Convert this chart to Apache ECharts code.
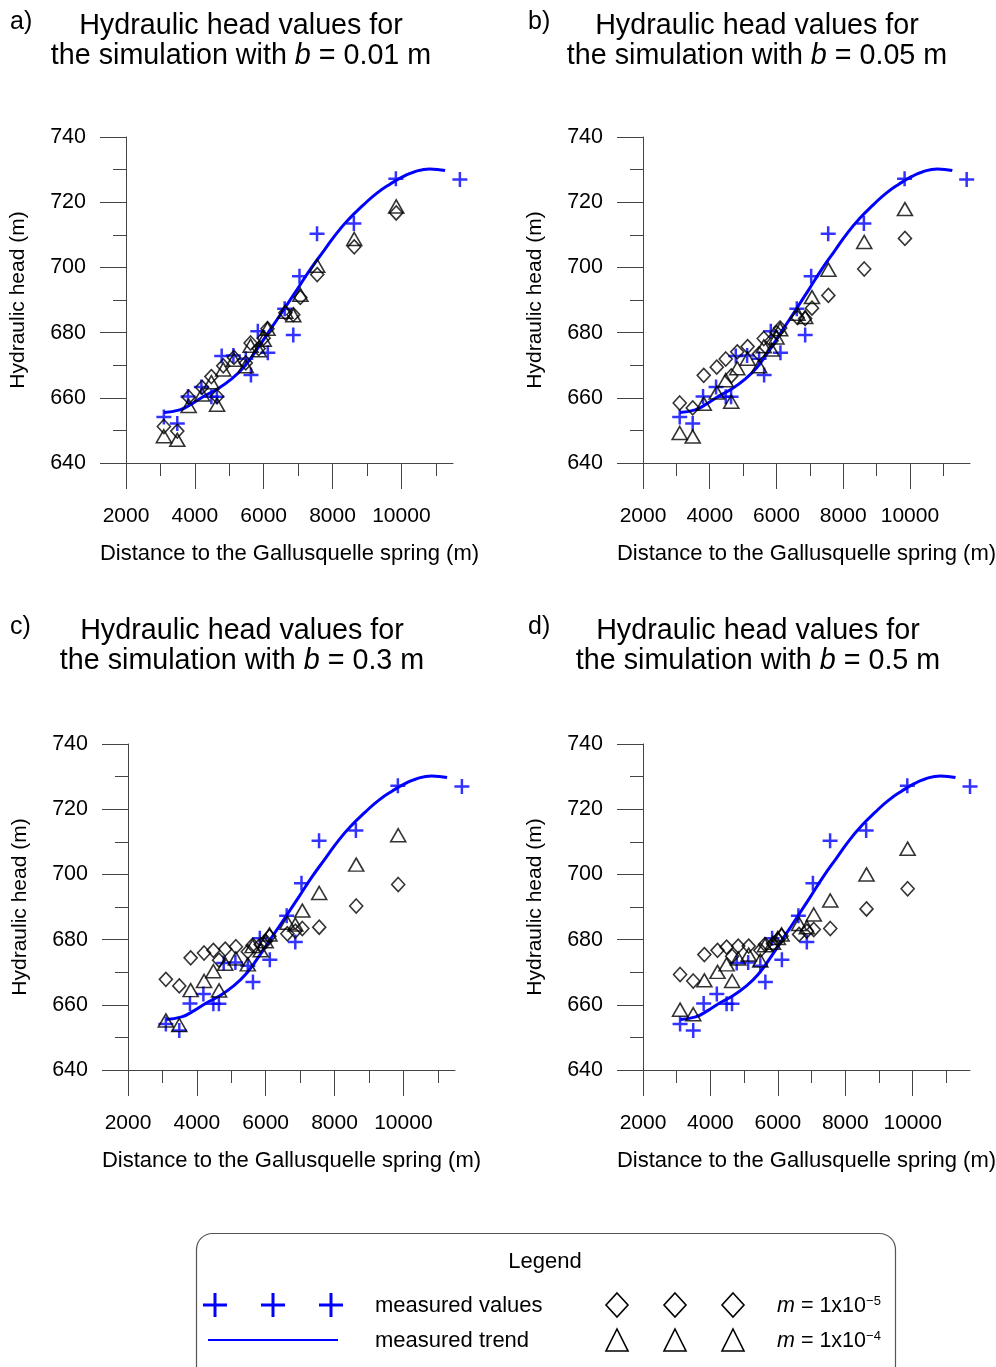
<!DOCTYPE html>
<html>
<head>
<meta charset="utf-8">
<script src="https://cdn.jsdelivr.net/npm/echarts@6/dist/echarts.min.js"></script>
<style>
  html, body { margin: 0; padding: 0; background: #fff; }
  #chart { width: 996px; height: 1367px; }
</style>
</head>
<body>
<div id="chart"></div>
<script>
  // distances (m) of the wells used for the simulated values
  const simX = [3100, 3490, 3820, 4210, 4480, 4645, 4825, 5135, 5480, 5620, 5855, 6000, 6110, 6630, 6860, 7065, 7555, 8630, 9850]

  // measured hydraulic heads
  const measX = [3100, 3490, 3800, 4190, 4480, 4640, 4780, 5120, 5480, 5630, 5830, 6120, 6610, 6860, 7040, 7550, 8620, 9840, 11700]
  const measY = [654.1, 652.1, 660.4, 663.3, 660.3, 660.3, 672.8, 673, 672, 667, 680.4, 673.8, 687.3, 679.3, 697.3, 710.3, 713.5, 727.2, 727]

  // measured trend
  const trendX = [3110, 3560, 3870, 4250, 4640, 5030, 5420, 5800, 6190, 6580, 6970, 7350, 7740, 8130, 8510, 8900, 9290, 9680, 10060, 10350, 10820, 11270]
  const trendY = [655.5, 656.3, 657.9, 660.4, 662.6, 665.5, 669.4, 674.8, 680.9, 687, 693.2, 699.3, 705, 710.6, 715.2, 719.2, 722.8, 725.6, 727.9, 729.2, 730.2, 729.7]

  // simulated heads, m = 1x10-5 (diamonds)
  const diamondA = [651.2, 649.8, 660.2, 663.2, 666.5, 660.4, 669.8, 672.4, 670.7, 676.8, 675.1, 678.3, 681.2, 686.1, 685.5, 690.8, 697.8, 706.3, 716.7]
  const diamondB = [658.4, 656.9, 666.9, 669.4, 671.9, 666.7, 674.1, 675.7, 673.5, 678.2, 677.5, 680, 681.4, 684.6, 684.3, 687.5, 691.4, 699.5, 708.9]
  const diamondC = [667.8, 665.8, 674.4, 675.9, 676.7, 673.7, 677.1, 677.8, 676.3, 678.3, 678.5, 679.5, 681, 681.8, 682.6, 683.4, 683.8, 690.3, 696.9]
  const diamondD = [669.3, 667.3, 675.4, 676.7, 677.7, 674.9, 678, 678, 676.7, 678.5, 678.7, 680, 681.1, 681.6, 682.6, 683.1, 683.4, 689.4, 695.6]

  // simulated heads, m = 1x10-4 (triangles)
  const triA = [648.2, 647.1, 657.5, 661, 664.8, 657.9, 668.7, 671.7, 669.7, 676, 674.6, 677.8, 681.2, 686.4, 685.3, 691.6, 700.5, 708.7, 718.7]
  const triB = [649.2, 648.1, 658.2, 661.6, 665.4, 658.8, 669.1, 672, 669.7, 675.8, 674.8, 678.5, 681, 685.8, 684.8, 690.9, 699.3, 707.8, 717.9]
  const triC = [655.2, 653.8, 664.5, 667.3, 670.3, 664.4, 672.6, 674.2, 672.4, 678, 676.7, 679.5, 681.6, 685.2, 684.6, 688.9, 694.3, 703, 712]
  const triD = [658.5, 657.1, 667.5, 670.1, 672.4, 667.3, 674.2, 675.4, 673.6, 678.3, 679, 680.5, 681.6, 684.8, 683.8, 687.7, 692, 700, 707.9]

  const panelLabels = ['a)', 'b)', 'c)', 'd)']
  const bValues = ['0.01', '0.05', '0.3', '0.5']
  const xMax = [11500, 11800, 11500, 11700]
  const xLabelTicks = [2000, 4000, 6000, 8000, 10000]

  const diamonds = [diamondA, diamondB, diamondC, diamondD]
  const triangles = [triA, triB, triC, triD]

  const FONT = '"Liberation Sans", Arial, sans-serif'
  const BLUE = '#0000ff'
  const AX = '#444'

  // panel boxes (px)
  const boxes = [
    { left: 126, top: 137, cx: 241, label: 10, ty: 22 },
    { left: 643, top: 137, cx: 757, label: 528, ty: 22 },
    { left: 128, top: 744, cx: 242, label: 10, ty: 627 },
    { left: 643, top: 744, cx: 758, label: 528, ty: 627 }
  ]
  const W = 327, H = 326

  const grids = [], xAxes = [], yAxes = [], series = [], graphics = []

  boxes.forEach((b, i) => {
    grids.push({ left: b.left, top: b.top, width: W, height: H, outerBoundsMode: 'none' })

    xAxes.push({
      gridIndex: i,
      type: 'value',
      min: 2000,
      max: xMax[i],
      interval: 2000,
      axisLine: { show: true, onZero: false, lineStyle: { color: AX, width: 1 } },
      axisTick: { show: true, length: 26, customValues: xLabelTicks, lineStyle: { color: AX, width: 1 } },
      minorTick: { show: true, splitNumber: 2, length: 13, lineStyle: { color: AX, width: 1 } },
      splitLine: { show: false },
      axisLabel: {
        customValues: xLabelTicks,
        formatter: v => String(v),
        margin: 43,
        fontSize: 21,
        color: '#000',
        fontFamily: FONT
      },
      name: 'Distance to the Gallusquelle spring (m)',
      nameLocation: 'middle',
      nameGap: 80,
      nameTextStyle: { fontSize: 22, color: '#000', fontFamily: FONT }
    })

    yAxes.push({
      gridIndex: i,
      type: 'value',
      min: 640,
      max: 740,
      interval: 20,
      axisLine: { show: true, onZero: false, lineStyle: { color: AX, width: 1 } },
      axisTick: { show: true, length: 26, lineStyle: { color: AX, width: 1 } },
      minorTick: { show: true, splitNumber: 2, length: 13, lineStyle: { color: AX, width: 1 } },
      splitLine: { show: false },
      axisLabel: { margin: 40, fontSize: 21.5, color: '#000', fontFamily: FONT },
      name: 'Hydraulic head (m)',
      nameLocation: 'middle',
      nameRotate: 90,
      nameGap: 97,
      nameTextStyle: { fontSize: 21, color: '#000', fontFamily: FONT }
    })

    series.push({
      type: 'line',
      xAxisIndex: i, yAxisIndex: i,
      smooth: true,
      showSymbol: false,
      data: trendX.map((x, k) => [x, trendY[k]]),
      lineStyle: { color: BLUE, width: 3 },
      clip: false,
      z: 2
    })
    series.push({
      type: 'scatter',
      xAxisIndex: i, yAxisIndex: i,
      symbol: 'path://M5,0H7V5H12V7H7V12H5V7H0V5H5Z',
      symbolSize: 15,
      data: measX.map((x, k) => [x, measY[k]]),
      itemStyle: { color: BLUE },
      clip: false,
      z: 3
    })
    series.push({
      type: 'scatter',
      xAxisIndex: i, yAxisIndex: i,
      symbol: 'diamond',
      symbolSize: [13, 14],
      data: simX.map((x, k) => [x, diamonds[i][k]]),
      itemStyle: { color: 'rgba(0,0,0,0)', borderColor: '#000', borderWidth: 1.6 },
      clip: false,
      z: 4
    })
    series.push({
      type: 'scatter',
      xAxisIndex: i, yAxisIndex: i,
      symbol: 'triangle',
      symbolSize: [15, 13],
      data: simX.map((x, k) => [x, triangles[i][k]]),
      itemStyle: { color: 'rgba(0,0,0,0)', borderColor: '#000', borderWidth: 1.6 },
      clip: false,
      z: 4
    })

    // panel label and title
    graphics.push({
      type: 'text', left: b.label, top: b.ty - 12,
      style: { text: panelLabels[i], fontSize: 25, fontFamily: FONT, fill: '#000' }
    })
    graphics.push({
      type: 'text', x: b.cx, y: b.ty + 4,
      style: { text: 'Hydraulic head values for', fontSize: 28.7, fontFamily: FONT, fill: '#000', align: 'center', verticalAlign: 'middle' }
    })
    graphics.push({
      type: 'text', x: b.cx, y: b.ty + 34,
      style: {
        text: '{n|the simulation with }{i|b}{n| = ' + bValues[i] + ' m}',
        align: 'center', verticalAlign: 'middle',
        rich: {
          n: { fontSize: 28.7, fontFamily: FONT, fill: '#000' },
          i: { fontSize: 28.7, fontFamily: FONT, fontStyle: 'italic', fill: '#000' }
        }
      }
    })
  })

  // legend box
  const lgTop = 1233
  graphics.push({
    type: 'rect',
    shape: { x: 196.5, y: lgTop + 0.5, width: 699, height: 160, r: 16 },
    style: { fill: 'none', stroke: '#555', lineWidth: 1.2 }
  })
  graphics.push({
    type: 'text', x: 545, y: 1262,
    style: { text: 'Legend', fontSize: 22, fontFamily: FONT, fill: '#000', align: 'center', verticalAlign: 'middle' }
  })
  const row1 = 1305, row2 = 1340
  ;[215, 273, 331].forEach(x => {
    graphics.push({ type: 'line', shape: { x1: x - 12, y1: row1, x2: x + 12, y2: row1 }, style: { stroke: BLUE, lineWidth: 3 } })
    graphics.push({ type: 'line', shape: { x1: x, y1: row1 - 12, x2: x, y2: row1 + 12 }, style: { stroke: BLUE, lineWidth: 3 } })
  })
  graphics.push({ type: 'line', shape: { x1: 208, y1: row2, x2: 338, y2: row2 }, style: { stroke: BLUE, lineWidth: 2 } })
  ;[617, 675, 733].forEach(x => {
    graphics.push({
      type: 'polygon',
      shape: { points: [[x, row1 - 12], [x + 11, row1], [x, row1 + 12], [x - 11, row1]] },
      style: { fill: 'none', stroke: '#000', lineWidth: 1.6 }
    })
    graphics.push({
      type: 'polygon',
      shape: { points: [[x, row2 - 11], [x + 11, row2 + 11], [x - 11, row2 + 11]] },
      style: { fill: 'none', stroke: '#000', lineWidth: 1.6 }
    })
  })
  graphics.push({
    type: 'text', x: 375, y: row1 + 1,
    style: { text: 'measured values', fontSize: 22, fontFamily: FONT, fill: '#000', verticalAlign: 'middle' }
  })
  graphics.push({
    type: 'text', x: 375, y: row2 + 1,
    style: { text: 'measured trend', fontSize: 22, fontFamily: FONT, fill: '#000', verticalAlign: 'middle' }
  })
  ;[['5', row1], ['4', row2]].forEach(([e, y]) => {
    graphics.push({
      type: 'text', x: 777, y: y + 1,
      style: {
        text: '{i|m}{n| = 1x10}{s|\u2212' + e + '}',
        verticalAlign: 'middle',
        rich: {
          i: { fontSize: 21.5, fontFamily: FONT, fontStyle: 'italic', fill: '#000' },
          n: { fontSize: 21.5, fontFamily: FONT, fill: '#000' },
          s: { fontSize: 13, fontFamily: FONT, fill: '#000', verticalAlign: 'top', padding: [0, 0, 8, 0] }
        }
      }
    })
  })

  const chart = echarts.init(document.getElementById('chart'), null, { renderer: 'canvas' })
  chart.setOption({
    backgroundColor: '#fff',
    animation: false,
    grid: grids,
    xAxis: xAxes,
    yAxis: yAxes,
    series: series,
    graphic: graphics
  })
</script>
</body>
</html>
